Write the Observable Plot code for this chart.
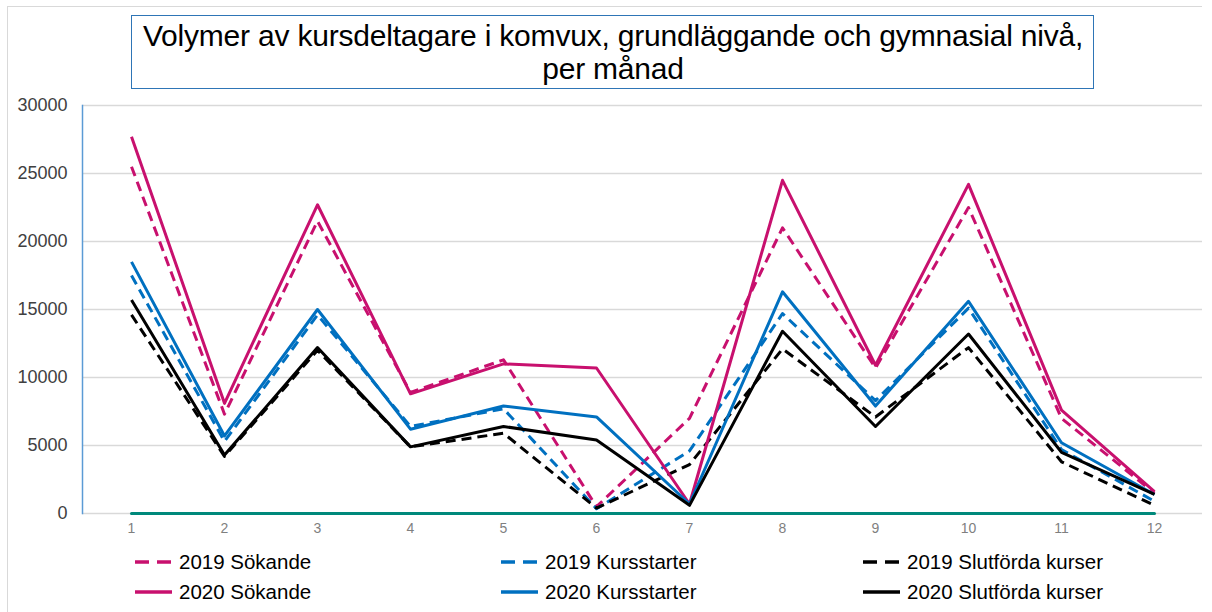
<!DOCTYPE html>
<html>
<head>
<meta charset="utf-8">
<script src="https://cdn.jsdelivr.net/npm/d3@7"></script>
<script src="https://cdn.jsdelivr.net/npm/@observablehq/plot@0.6"></script>
<style>
  body { margin: 0; background: #fff; font-family: "Liberation Sans", Arial, sans-serif; }
  #wrap { position: relative; width: 1212px; height: 612px; overflow: hidden; background: #fff; }
  #border { position: absolute; left: 7px; top: 6px; width: 1194px; height: 700px; border-top: 1.5px solid #d9d9d9; border-left: 1.5px solid #d9d9d9; }
  #chart { position: absolute; left: 0; top: 0; }
  #titlebox { position: absolute; left: 131px; top: 15px; width: 961px; height: 72px; border: 1.5px solid #2e75b6; }
  #title { position: absolute; left: 131px; top: 19px; width: 964px; text-align: center; font-size: 30px; line-height: 33px; color: #000; letter-spacing: -0.2px; }
  .leg { position: absolute; height: 24px; line-height: 24px; font-size: 20.5px; color: #000; white-space: nowrap; display: flex; align-items: center; }
  .leg svg { margin-right: 6px; }
</style>
</head>
<body>
<div id="wrap">
  <div id="border"></div>
  <div id="chart"></div>
  <div id="titlebox"></div>
  <div id="title">Volymer av kursdeltagare i komvux, grundläggande och gymnasial nivå,<br>per månad</div>
  <div id="legend"></div>
</div>
<script>
const months = [1, 2, 3, 4, 5, 6, 7, 8, 9, 10, 11, 12];
const yTicks = [0, 5000, 10000, 15000, 20000, 25000, 30000];

const sokande2019      = [25500, 7300, 21500, 8900, 11300, 500, 7000, 21000, 10700, 22500, 7000, 1500];
const kursstarter2019  = [17500, 5300, 14600, 6400, 7700, 350, 4600, 14700, 8300, 15100, 4700, 900];
const slutforda2019    = [14600, 4200, 12000, 4900, 5900, 400, 3600, 12100, 7100, 12200, 3800, 600];
const sokande2020      = [27700, 8100, 22700, 8800, 11000, 10700, 700, 24500, 10900, 24200, 7600, 1600];
const kursstarter2020  = [18500, 5700, 15000, 6200, 7900, 7100, 700, 16300, 7900, 15600, 5200, 1400];
const slutforda2020    = [15700, 4300, 12200, 4900, 6400, 5400, 600, 13400, 6400, 13200, 4500, 1400];
const baseline         = [0, 0, 0, 0, 0, 0, 0, 0, 0, 0, 0, 0];

const MAGENTA = "#c8106e", BLUE = "#0070c0", BLACK = "#000000", TEAL = "#00897b";
const series = [
  { name: "2019 Sökande", values: sokande2019, color: MAGENTA, dashed: true },
  { name: "2019 Kursstarter", values: kursstarter2019, color: BLUE, dashed: true },
  { name: "2019 Slutförda kurser", values: slutforda2019, color: BLACK, dashed: true },
  { name: "2020 Sökande", values: sokande2020, color: MAGENTA, dashed: false },
  { name: "2020 Kursstarter", values: kursstarter2020, color: BLUE, dashed: false },
  { name: "2020 Slutförda kurser", values: slutforda2020, color: BLACK, dashed: false }
];

const toRows = (vals) => months.map((m, i) => ({ month: m, value: vals[i] }));

const lineMarks = series.map(s => Plot.line(toRows(s.values), {
  x: "month", y: "value", stroke: s.color, strokeWidth: 3,
  strokeDasharray: s.dashed ? "10,6" : null, strokeLinejoin: "round", strokeLinecap: "butt"
}));

const plot = Plot.plot({
  width: 1212,
  height: 545,
  marginLeft: 82,
  marginRight: 10,
  marginTop: 105,
  marginBottom: 32,
  style: { fontFamily: "'Liberation Sans', Arial, sans-serif", background: "transparent", overflow: "visible" },
  x: { type: "point", domain: months, padding: 0.5 },
  y: { domain: [0, 30000] },
  marks: [
    Plot.gridY(yTicks, { stroke: "#d9d9d9", strokeOpacity: 1, strokeWidth: 1.5 }),
    Plot.frame({ anchor: "left", stroke: "#5b9bd5", strokeWidth: 1.5 }),
    Plot.axisY(yTicks, { tickSize: 0, tickPadding: 15, fontSize: 18, fill: "#404040", tickFormat: d => String(d), label: null }),
    Plot.axisX(months, { tickSize: 0, tickPadding: 10, fontSize: 14, fill: "#7f7f7f", label: null }),
    Plot.line(toRows(baseline), { x: "month", y: "value", stroke: TEAL, strokeWidth: 3 }),
    ...lineMarks
  ]
});
document.getElementById("chart").appendChild(plot);

// Legend
const legend = document.getElementById("legend");
const colX = [135, 501, 863];
const rowY = [562, 592];
series.forEach((s, i) => {
  const col = i % 3, row = Math.floor(i / 3);
  const div = document.createElement("div");
  div.className = "leg";
  div.style.left = colX[col] + "px";
  div.style.top = (rowY[row] - 12) + "px";
  const dash = s.dashed ? 'stroke-dasharray="14,8"' : "";
  div.innerHTML = `<svg width="38" height="10"><line x1="0" y1="5" x2="37" y2="5" stroke="${s.color}" stroke-width="3.5" ${dash}/></svg><span>${s.name}</span>`;
  legend.appendChild(div);
});
</script>
</body>
</html>
